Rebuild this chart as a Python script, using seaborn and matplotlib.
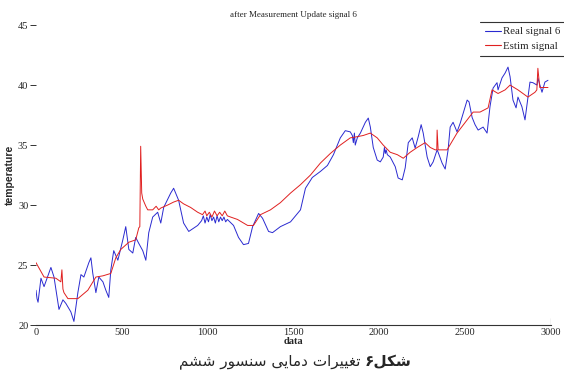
import numpy as np
import pandas as pd
import matplotlib
matplotlib.use("Agg")
import matplotlib.pyplot as plt
from matplotlib.lines import Line2D
import seaborn as sns

# Measured sensor signal (data index, temperature)
real_x = [0, 6, 12, 29, 47, 87, 105, 134, 157, 174, 203, 221, 244, 262, 279, 308, 320, 331,
          349, 366, 390, 407, 424, 436, 453, 477, 506, 523, 541, 564, 581, 599, 622, 640,
          657, 680, 709, 727, 744, 785, 802, 831, 860, 890, 942, 965, 975, 985, 995, 1005,
          1015, 1025, 1035, 1045, 1055, 1065, 1075, 1085, 1095, 1105, 1115, 1151, 1180,
          1209, 1238, 1262, 1297, 1320, 1355, 1378, 1424, 1483, 1541, 1570, 1610, 1657,
          1698, 1733, 1773, 1802, 1831, 1843, 1849, 1855, 1860, 1872, 1890, 1919, 1936,
          1948, 1965, 1988, 2006, 2023, 2030, 2035, 2040, 2047, 2064, 2093, 2110, 2134,
          2151, 2169, 2192, 2209, 2227, 2244, 2256, 2279, 2297, 2314, 2337, 2343, 2366,
          2384, 2401, 2413, 2430, 2453, 2471, 2512, 2523, 2541, 2558, 2576, 2605, 2628,
          2645, 2663, 2686, 2692, 2715, 2733, 2750, 2762, 2779, 2797, 2808, 2831, 2849,
          2878, 2895, 2919, 2924, 2948, 2965, 2983]
real_y = [22.9, 22.2, 21.9, 23.9, 23.2, 24.8, 24.0, 21.3, 22.1, 21.8, 21.1, 20.3, 22.7, 24.2,
          24.0, 25.2, 25.6, 24.3, 22.7, 24.0, 23.6, 22.9, 22.3, 24.6, 26.2, 25.4, 27.1, 28.2,
          26.3, 26.0, 27.3, 26.8, 26.2, 25.4, 27.7, 29.0, 29.4, 28.5, 29.8, 31.0, 31.4, 30.4,
          28.5, 27.8, 28.3, 28.7, 29.1, 28.5, 29.0, 28.6, 29.2, 28.7, 29.0, 28.5, 29.1, 28.6,
          29.0, 28.7, 29.0, 28.6, 28.8, 28.3, 27.3, 26.7, 26.8, 28.2, 29.3, 28.9, 27.8, 27.7,
          28.2, 28.6, 29.6, 31.4, 32.3, 32.8, 33.3, 34.2, 35.6, 36.2, 36.1, 35.8, 35.2, 36.0,
          35.0, 35.6, 36.0, 36.9, 37.25, 36.5, 34.8, 33.75, 33.6, 34.0, 34.8, 34.3, 34.6,
          34.2, 34.0, 33.2, 32.25, 32.1, 33.1, 35.2, 35.6, 34.75, 35.7, 36.7, 36.0, 34.0,
          33.2, 33.6, 34.6, 34.4, 33.5, 33.0, 34.6, 36.5, 36.9, 36.1, 36.8, 38.75, 38.6,
          37.3, 36.7, 36.25, 36.5, 36.0, 38.2, 39.75, 40.2, 39.6, 40.6, 41.0, 41.5, 40.7,
          38.75, 38.1, 39.0, 38.2, 37.1, 40.25, 40.2, 40.0, 40.6, 39.4, 40.25, 40.4]

# Estimated signal after the measurement update
est_x = [0, 47, 116, 145, 151, 157, 163, 186, 244, 302, 349, 390, 436, 465, 494, 541, 581,
         599, 605, 610, 616, 622, 640, 651, 680, 700, 715, 727, 767, 802, 831, 860, 901, 942,
         970, 985, 995, 1010, 1025, 1040, 1055, 1070, 1085, 1100, 1115, 1134, 1174, 1233,
         1267, 1308, 1366, 1424, 1483, 1541, 1599, 1657, 1715, 1773, 1831, 1872, 1907, 1948,
         1988, 2023, 2064, 2105, 2140, 2180, 2221, 2267, 2297, 2326, 2335, 2337, 2343, 2395,
         2453, 2512, 2547, 2587, 2634, 2657, 2692, 2733, 2762, 2808, 2866, 2907, 2918, 2924,
         2935, 2983]
est_y = [25.2, 24.0, 23.9, 23.6, 24.6, 23.0, 22.7, 22.2, 22.2, 22.9, 24.0, 24.1, 24.3, 25.6,
         26.3, 26.9, 27.1, 28.1, 28.2, 34.9, 31.0, 30.5, 29.9, 29.6, 29.6, 29.9, 29.6, 29.75,
         30.0, 30.25, 30.4, 30.1, 29.8, 29.4, 29.2, 29.5, 29.1, 29.4, 29.0, 29.5, 29.1, 29.4,
         29.1, 29.5, 29.1, 29.0, 28.8, 28.3, 28.3, 29.2, 29.6, 30.2, 31.0, 31.7, 32.5, 33.5,
         34.3, 35.0, 35.6, 35.7, 35.8, 36.0, 35.6, 35.0, 34.4, 34.2, 33.9, 34.4, 34.8, 35.2,
         34.8, 34.6, 34.6, 36.25, 34.6, 34.6, 36.0, 37.1, 37.75, 37.75, 38.1, 39.6, 39.3,
         39.6, 40.0, 39.6, 39.0, 39.4, 39.6, 41.4, 39.8, 39.8]

series_labels = ["Real signal 6", "Estim signal"]
title_text = "after Measurement Update signal 6"
x_label = "data"
y_label = "temperature"
x_ticks = [0, 500, 1000, 1500, 2000, 2500, 3000]
y_ticks = [20, 25, 30, 35, 40, 45]
caption_bold = "شکل۶"
caption_rest = "تغییرات دمایی سنسور ششم"

# Contextual forms for the Persian caption (matplotlib does not shape Arabic script)
_FORMS = {
    # letter: (isolated, final, initial, medial)
    "ش": ("\uFEB5", "\uFEB6", "\uFEB7", "\uFEB8"),
    "ک": ("\uFB8E", "\uFB8F", "\uFB90", "\uFB91"),
    "ل": ("\uFEDD", "\uFEDE", "\uFEDF", "\uFEE0"),
    "ت": ("\uFE95", "\uFE96", "\uFE97", "\uFE98"),
    "غ": ("\uFECD", "\uFECE", "\uFECF", "\uFED0"),
    "ی": ("\uFBFC", "\uFBFD", "\uFBFE", "\uFBFF"),
    "م": ("\uFEE1", "\uFEE2", "\uFEE3", "\uFEE4"),
    "س": ("\uFEB1", "\uFEB2", "\uFEB3", "\uFEB4"),
    "ن": ("\uFEE5", "\uFEE6", "\uFEE7", "\uFEE8"),
    "ر": ("\uFEAD", "\uFEAE", None, None),
    "ا": ("\uFE8D", "\uFE8E", None, None),
    "د": ("\uFEA9", "\uFEAA", None, None),
    "و": ("\uFEED", "\uFEEE", None, None),
}


def _joins_left(ch):
    f = _FORMS.get(ch)
    return f is not None and f[2] is not None


def shape_rtl(text):
    out = []
    for i, ch in enumerate(text):
        f = _FORMS.get(ch)
        if f is None:
            out.append(ch)
            continue
        prev_joins = i > 0 and _joins_left(text[i - 1])
        next_joins = (i + 1 < len(text) and text[i + 1] in _FORMS
                      and f[2] is not None)
        if prev_joins and next_joins:
            out.append(f[3])
        elif prev_joins:
            out.append(f[1])
        elif next_joins:
            out.append(f[2])
        else:
            out.append(f[0])
    return "".join(out)[::-1]


df_real = pd.DataFrame({"data": real_x, "temperature": real_y})
df_est = pd.DataFrame({"data": est_x, "temperature": est_y})

sns.set_style("white")
plt.rcParams["font.family"] = ["Liberation Serif", "DejaVu Sans"]

fig = plt.figure(figsize=(5.64, 3.85), dpi=100)
ax = fig.add_axes([0.0638, 0.1558, 0.913, 0.779])

sns.lineplot(data=df_real, x="data", y="temperature", ax=ax, color="#2a2ad0",
             linewidth=0.7, label=series_labels[0], estimator=None, sort=False)
sns.lineplot(data=df_est, x="data", y="temperature", ax=ax, color="#e02020",
             linewidth=0.7, label=series_labels[1], estimator=None, sort=False)

ax.set_xlim(0, 3000)
ax.set_ylim(20, 45)
ax.set_xticks(x_ticks)
ax.set_yticks(y_ticks)
ax.set_xticklabels([str(t) for t in x_ticks], fontsize=7.5)
ax.set_yticklabels([str(t) for t in y_ticks], fontsize=7.5)
ax.tick_params(axis="x", bottom=False, length=0, pad=2)
ax.tick_params(axis="y", left=True, length=4, width=0.7, direction="out", pad=1.5,
               color="#333333")

for side in ["left", "top", "right"]:
    ax.spines[side].set_visible(False)
ax.spines["bottom"].set_color("#333333")
ax.spines["bottom"].set_linewidth(0.8)
ax.axvline(3000, ymin=0, ymax=0.025, color="#333333", linewidth=0.8)

ax.set_title(title_text, fontsize=6.5, pad=6)
ax.set_xlabel(x_label, fontsize=7.5, fontweight="bold", labelpad=0)
ax.set_ylabel(y_label, fontsize=7.5, fontweight="bold", labelpad=2,
              family="Liberation Sans")

leg = ax.legend(loc="upper left", bbox_to_anchor=(480 / 564, 1 - 22 / 385),
                bbox_transform=fig.transFigure, frameon=False, fontsize=7.8,
                handlelength=1.5, handletextpad=0.2, borderpad=0.45,
                labelspacing=0.45, borderaxespad=0)
for line in leg.get_lines():
    line.set_linewidth(0.8)

fig.canvas.draw()
bb = leg.get_window_extent().transformed(fig.transFigure.inverted())
for yy in (bb.y0, bb.y1):
    fig.add_artist(Line2D([bb.x0, 1.0], [yy, yy], transform=fig.transFigure,
                          color="#333333", linewidth=0.8))

bold_txt = fig.text(412 / 564, 1 - 366 / 385, shape_rtl(caption_bold), ha="right",
                    va="baseline", fontsize=11, fontweight="bold", family="DejaVu Sans")
ax.annotate(shape_rtl(caption_rest), xy=(0, 0), xycoords=bold_txt,
            xytext=(-3, 0), textcoords="offset points", ha="right", va="bottom",
            fontsize=11, family="DejaVu Sans", annotation_clip=False)

fig.savefig("out.png", dpi=100)
